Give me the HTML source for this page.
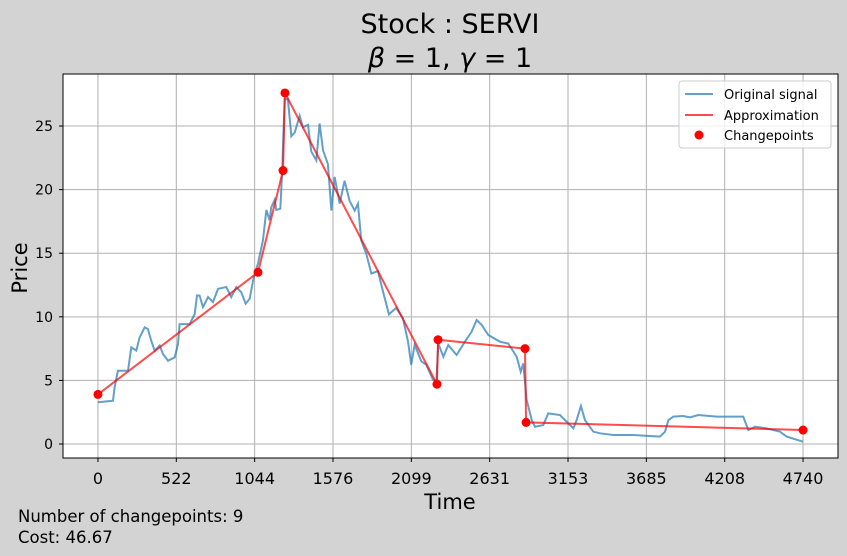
<!DOCTYPE html>
<html><head><meta charset="utf-8"><style>
body{margin:0;background:#d3d3d3;font-family:"DejaVu Sans","Liberation Sans",sans-serif}
svg{display:block}
</style></head><body>
<svg id="c" width="847" height="556">
<rect width="847" height="556" fill="#d3d3d3"/>
<text x="450" y="33" text-anchor="middle" font-size="27" fill="#000">Stock : SERVI</text>
<text x="450" y="67" text-anchor="middle" font-size="27" fill="#000"><tspan font-style="italic">β</tspan> = 1, <tspan font-style="italic">γ</tspan> = 1</text>
<rect x="63" y="74" width="775" height="384" fill="#fff"/>
<g id="grid"></g><g id="series"></g>
<rect x="63" y="74" width="775" height="384" fill="none" stroke="#000" stroke-width="1"/>
<g id="ticks"></g>
<text x="450" y="509" text-anchor="middle" font-size="21">Time</text>
<text transform="translate(27,268) rotate(-90)" text-anchor="middle" font-size="21">Price</text>
<text x="18" y="522" font-size="16.5">Number of changepoints: 9</text>
<text x="18" y="543" font-size="16.5">Cost: 46.67</text>
<g>
<rect x="679" y="81" width="152" height="67" rx="3" fill="#fff" fill-opacity="0.8" stroke="#ccc"/>
<line x1="685" y1="94" x2="713" y2="94" stroke="#1f77b4" stroke-opacity="0.7" stroke-width="2"/>
<text x="724" y="99" font-size="13">Original signal</text>
<line x1="685" y1="115" x2="713" y2="115" stroke="#ff0000" stroke-opacity="0.7" stroke-width="2"/>
<text x="724" y="120" font-size="13">Approximation</text>
<circle cx="699" cy="135" r="4.5" fill="#ff0000"/>
<text x="724" y="140" font-size="13">Changepoints</text>
</g>
</svg>
<script>
const sigX=[0,101,112,134,202,224,258,280,314,336,358,381,415,437,471,516,538,549,616,650,666,683,706,740,773,807,863,896,930,963,993,1020,1047,1076,1109,1132,1154,1165,1188,1199,1226,1239,1255,1277,1300,1323,1356,1378,1412,1434,1468,1490,1513,1546,1569,1591,1625,1658,1692,1726,1748,1770,1804,1838,1882,1916,1956,2005,2050,2084,2106,2129,2174,2207,2252,2275,2288,2322,2355,2411,2467,2512,2546,2580,2624,2703,2758,2815,2842,2859,2882,2916,2938,2994,3027,3106,3151,3196,3218,3247,3274,3330,3375,3465,3599,3778,3812,3835,3868,3935,3980,4036,4159,4338,4372,4418,4496,4585,4630,4740];
const sigY=[3.28,3.4,4.46,5.76,5.76,7.6,7.34,8.38,9.17,9.04,8.13,7.34,7.74,7.08,6.55,6.81,7.86,9.43,9.43,10.2,11.68,11.68,10.76,11.55,11.16,12.2,12.34,11.55,12.34,11.94,11.03,11.42,13.1,14.2,16.0,18.4,17.6,18.6,19.2,18.4,18.5,21.6,27.1,27.1,24.2,24.5,25.8,24.9,25.1,23.0,22.3,25.2,23.1,22.0,18.35,21.0,18.9,20.7,19.1,18.35,18.9,16.0,14.95,13.4,13.6,12.0,10.2,10.7,9.9,8.08,6.24,7.8,6.5,6.24,5.06,4.9,7.9,6.86,7.78,7.0,8.04,8.83,9.75,9.36,8.57,8.04,7.9,6.86,5.68,6.34,3.46,1.89,1.36,1.49,2.41,2.28,1.75,1.23,1.88,2.99,1.88,0.97,0.84,0.71,0.71,0.58,0.97,1.88,2.15,2.2,2.1,2.28,2.15,2.15,1.1,1.36,1.23,0.97,0.58,0.18];
const cpX=[0,1076,1244,1257,2279,2286,2871,2878,4740];
const cpY=[3.9,13.5,21.5,27.6,4.7,8.2,7.5,1.7,1.1];
const xTicks=[0,522,1044,1576,2099,2631,3153,3685,4208,4740];
const yTicks=[0,5,10,15,20,25];
const xMin=-235,xMax=4975,yMin=-1.1,yMax=29.09;
const L=63,R=838,T=74,B=458;
const sx=v=>L+(v-xMin)/(xMax-xMin)*(R-L);
const sy=v=>B-(v-yMin)/(yMax-yMin)*(B-T);
const NS="http://www.w3.org/2000/svg";
function mk(tag,attrs,parent){const e=document.createElementNS(NS,tag);for(const k in attrs)e.setAttribute(k,attrs[k]);parent.appendChild(e);return e;}
const grid=document.getElementById('grid'),ticks=document.getElementById('ticks'),series=document.getElementById('series');
const xPos=i=>i===xTicks.length-1?4740:i*4740/9;
xTicks.forEach((t,i)=>{const x=sx(xPos(i));
 const g=mk('line',{x1:x,x2:x,y1:T,y2:B,stroke:'#b0b0b0','stroke-width':1},grid);
 
 
 const tk=mk('line',{x1:x,x2:x,y1:B,y2:B+4,stroke:'#000'},ticks);
 
 
 const lb=mk('text',{x:x,y:B+26,'text-anchor':'middle','font-size':16},ticks);lb.textContent=t;
 
 });
yTicks.forEach(t=>{const y=sy(t);
 const g=mk('line',{x1:L,x2:R,y1:y,y2:y,stroke:'#b0b0b0','stroke-width':1},grid);
 
 
 const tk=mk('line',{x1:L-4,x2:L,y1:y,y2:y,stroke:'#000'},ticks);
 
 
 const lb=mk('text',{x:L-10,y:y+5,'text-anchor':'end','font-size':14},ticks);lb.textContent=t;
 
 });
const sp=mk('polyline',{points:sigX.map((x,i)=>sx(x)+','+sy(sigY[i])).join(' '),fill:'none',stroke:'#1f77b4','stroke-opacity':0.7,'stroke-width':2},series);


const ap=mk('polyline',{points:cpX.map((x,i)=>sx(x)+','+sy(cpY[i])).join(' '),fill:'none',stroke:'#ff0000','stroke-opacity':0.7,'stroke-width':2},series);


cpX.forEach((x,i)=>{const c=mk('circle',{cx:sx(x),cy:sy(cpY[i]),r:4.5,fill:'#ff0000'},series);
 
 });
</script>
</body></html>
